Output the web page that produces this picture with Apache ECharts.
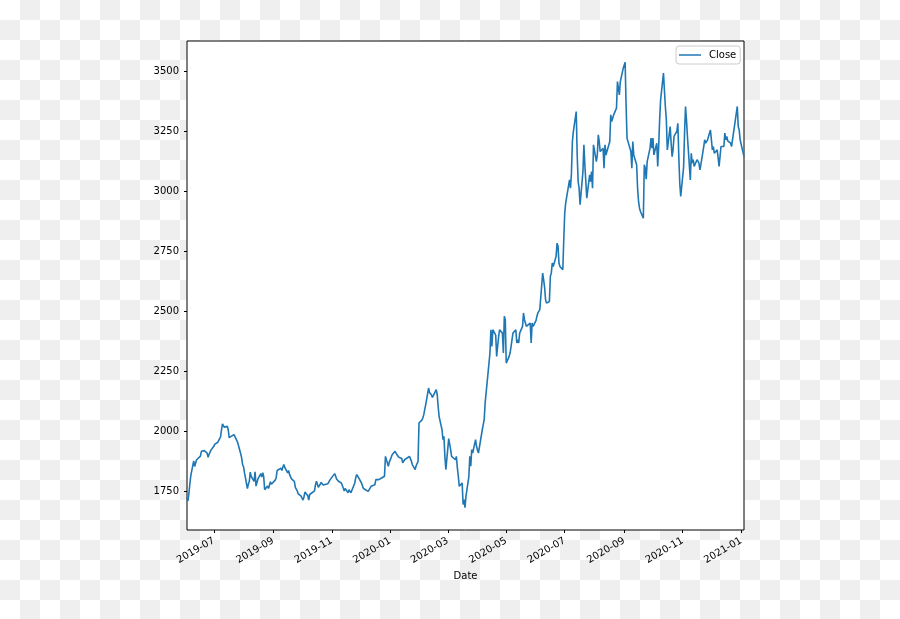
<!DOCTYPE html>
<html>
<head>
<meta charset="utf-8">
<script src="https://cdn.jsdelivr.net/npm/echarts@6/dist/echarts.min.js"></script>
<style>
html, body { margin: 0; padding: 0; width: 900px; height: 619px; overflow: hidden;
  background: repeating-conic-gradient(#efefef 0% 25%, #ffffff 0% 50%) 0 0 / 40px 40px; }
#chart { width: 900px; height: 619px; }
</style>
</head>
<body>
<div id="chart"></div>
<script>
// ---- data ----
const months = ['2019-06','2019-07','2019-08','2019-09','2019-10','2019-11','2019-12',
  '2020-01','2020-02','2020-03','2020-04','2020-05','2020-06','2020-07','2020-08',
  '2020-09','2020-10','2020-11','2020-12','2021-01'];

const tradingDays = [
  [3,4,5,6,7,10,11,12,13,14,17,18,19,20,21,24,25,26,27,28],
  [1,2,3,5,8,9,10,11,12,15,16,17,18,19,22,23,24,25,26,29,30,31],
  [1,2,5,6,7,8,9,12,13,14,15,16,19,20,21,22,23,26,27,28,29,30],
  [3,4,5,6,9,10,11,12,13,16,17,18,19,20,23,24,25,26,27,30],
  [1,2,3,4,7,8,9,10,11,14,15,16,17,18,21,22,23,24,25,28,29,30,31],
  [1,4,5,6,7,8,11,12,13,14,15,18,19,20,21,22,25,26,27,29],
  [2,3,4,5,6,9,10,11,12,13,16,17,18,19,20,23,24,26,27,30,31],
  [2,3,6,7,8,9,10,13,14,15,16,17,21,22,23,24,27,28,29,30,31],
  [3,4,5,6,7,10,11,12,13,14,18,19,20,21,24,25,26,27,28],
  [2,3,4,5,6,9,10,11,12,13,16,17,18,19,20,23,24,25,26,27,30,31],
  [1,2,3,6,7,8,9,13,14,15,16,17,20,21,22,23,24,27,28,29,30],
  [1,4,5,6,7,8,11,12,13,14,15,18,19,20,21,22,26,27,28,29],
  [1,2,3,4,5,8,9,10,11,12,15,16,17,18,19,22,23,24,25,26,29,30],
  [1,2,6,7,8,9,10,13,14,15,16,17,20,21,22,23,24,27,28,29,30,31],
  [3,4,5,6,7,10,11,12,13,14,17,18,19,20,21,24,25,26,27,28,31],
  [1,2,3,4,8,9,10,11,14,15,16,17,18,21,22,23,24,25,28,29,30],
  [1,2,5,6,7,8,9,12,13,14,15,16,19,20,21,22,23,26,27,28,29,30],
  [2,3,4,5,6,9,10,11,12,13,16,17,18,19,20,23,24,25,27,30],
  [1,2,3,4,7,8,9,10,11,14,15,16,17,18,21,22,23,24,28,29,30,31],
  [4]
];

const closeValues = [
  [1722,1708,1740,1780,1815,1875,1852,1865,1880,1872,1895,1915,1922,1910,1918,1908,1890,1902,1910,1920],
  [1936,1945,1950,1952,1975,2005,2030,2022,2015,2020,2005,1972,1975,1970,1985,1992,1990,1960,1950,1905,1888,1860],
  [1850,1825,1760,1778,1790,1828,1810,1790,1830,1770,1785,1800,1822,1808,1826,1810,1755,1770,1760,1765,1788,1778],
  [1795,1805,1835,1838,1845,1835,1850,1860,1848,1825,1835,1818,1822,1800,1790,1765,1770,1750,1738,1728],
  [1735,1712,1725,1745,1730,1712,1735,1728,1740,1750,1775,1790,1785,1765,1785,1790,1775,1780,1768,1780,1788,1795,1790],
  [1800,1822,1812,1800,1792,1790,1783,1775,1762,1750,1760,1742,1755,1748,1742,1748,1783,1805,1818,1805],
  [1783,1772,1760,1755,1762,1748,1742,1755,1769,1762,1776,1797,1795,1790,1797,1804,1806,1811,1894,1853,1870],
  [1890,1901,1915,1911,1901,1896,1890,1885,1867,1872,1880,1873,1894,1887,1875,1860,1839,1855,1860,1873,2033],
  [2045,2054,2068,2090,2110,2179,2160,2168,2150,2140,2172,2151,2100,2060,2005,1964,1978,1894,1839],
  [1968,1971,1922,1894,1901,1880,1894,1846,1811,1769,1783,1693,1714,1680,1728,1810,1894,1853,1922,1908,1964,1936],
  [1920,1908,1901,2005,2026,2047,2117,2283,2325,2422,2352,2422,2400,2311,2352,2390,2422,2408,2325,2478,2464],
  [2283,2311,2325,2352,2380,2408,2422,2367,2380,2367,2408,2436,2492,2464,2450,2436,2450,2367,2450,2436],
  [2460,2478,2492,2495,2506,2658,2630,2600,2547,2533,2540,2644,2658,2700,2686,2728,2783,2770,2700,2686,2672,2797],
  [2908,2950,3047,3012,3075,3207,3248,3332,3151,3040,3012,2943,3082,3193,3110,3040,2971,3068,3040,3082,3012,3193],
  [3123,3151,3235,3207,3165,3179,3096,3193,3151,3165,3207,3318,3290,3304,3318,3346,3457,3429,3401,3457,3512],
  [3520,3537,3360,3220,3165,3096,3207,3151,3110,3012,2957,2929,2915,2887,3110,3096,3050,3123,3179,3221,3179],
  [3221,3151,3200,3103,3186,3297,3380,3492,3420,3350,3297,3172,3269,3200,3144,3172,3228,3250,3283,3144,3033,2978],
  [3100,3242,3353,3297,3228,3047,3158,3117,3131,3103,3131,3125,3117,3089,3110,3186,3214,3200,3214,3255],
  [3214,3172,3186,3158,3172,3140,3103,3144,3186,3186,3242,3214,3228,3210,3200,3186,3190,3186,3353,3269,3255,3214],
  [3144]
];

const xTickDates = ['2019-07-01','2019-09-01','2019-11-01','2020-01-01','2020-03-01',
  '2020-05-01','2020-07-01','2020-09-01','2020-11-01','2021-01-01'];
const yTickValues = [1750, 2000, 2250, 2500, 2750, 3000, 3250, 3500];
const xRange = ['2019-06-03', '2021-01-04'];
const yRange = [1587, 3626];
const seriesName = 'Close';
const xTitle = 'Date';

// ---- build ----
function toTs(s) {
  const p = s.split('-').map(Number);
  return new Date(p[0], p[1] - 1, p[2]).getTime();
}
function pad(n) { return (n < 10 ? '0' : '') + n; }

const seriesData = [];
months.forEach((m, i) => {
  tradingDays[i].forEach((d, j) => {
    seriesData.push([toTs(m + '-' + pad(d)), closeValues[i][j]]);
  });
});
const xTickTs = xTickDates.map(toTs);

const FONT = 'DejaVu Sans';
const FS = 10;
const chart = echarts.init(document.getElementById('chart'), null, { renderer: 'canvas' });
chart.setOption({
  animation: false,
  textStyle: { fontFamily: FONT },
  grid: { left: 187, top: 41, right: 156, bottom: 89, show: true,
    backgroundColor: '#ffffff', borderColor: '#000000', borderWidth: 1, containLabel: false },
  legend: {
    data: [{ name: seriesName, icon: 'rect' }],
    left: 676, top: 46, itemWidth: 22, itemHeight: 1.5,
    padding: [4, 4, 4, 3],
    backgroundColor: 'rgba(255,255,255,0.8)', borderColor: '#cccccc', borderWidth: 1, borderRadius: 3,
    textStyle: { fontSize: FS, color: '#000', fontFamily: FONT, padding: [0, 0, 0, 3] },
    selectedMode: false
  },
  xAxis: {
    type: 'value', min: toTs(xRange[0]), max: toTs(xRange[1]),
    splitLine: { show: false }, axisLine: { show: false },
    axisTick: { show: true, length: 3, lineStyle: { color: '#000', width: 1 }, customValues: xTickTs },
    axisLabel: {
      customValues: xTickTs, rotate: 30, margin: 10, fontSize: FS, color: '#000', fontFamily: FONT,
      formatter: function (v) { const d = new Date(v); return d.getFullYear() + '-' + pad(d.getMonth() + 1); }
    },
    name: xTitle, nameLocation: 'middle', nameGap: 40,
    nameTextStyle: { fontSize: FS, color: '#000', fontFamily: FONT }
  },
  yAxis: {
    type: 'value', min: yRange[0], max: yRange[1],
    splitLine: { show: false }, axisLine: { show: false },
    axisTick: { show: true, length: 3, lineStyle: { color: '#000', width: 1 }, customValues: yTickValues },
    axisLabel: { customValues: yTickValues, margin: 8, fontSize: FS, color: '#000', fontFamily: FONT,
      formatter: function (v) { return String(v); } }
  },
  series: [{
    type: 'line', name: seriesName, data: seriesData,
    showSymbol: false, symbol: 'none',
    lineStyle: { color: '#1f77b4', width: 1.6 },
    itemStyle: { color: '#1f77b4' },
    emphasis: { disabled: true }
  }]
});
</script>
</body>
</html>
